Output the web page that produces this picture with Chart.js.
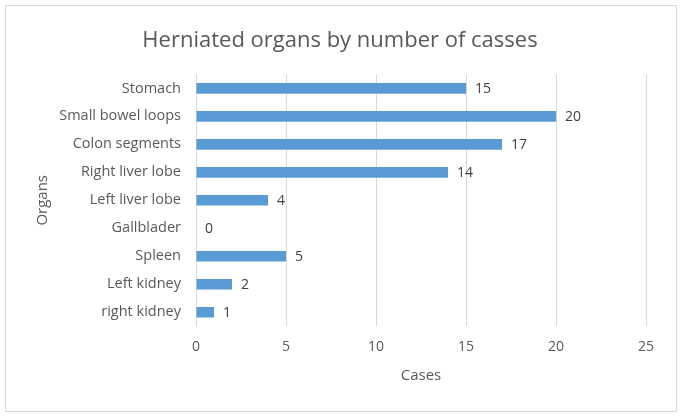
<!DOCTYPE html>
<html>
<head>
<meta charset="utf-8">
<script src="https://cdn.jsdelivr.net/npm/chart.js@4"></script>
<style>
html,body{margin:0;padding:0;background:#fff;}
#wrap{position:absolute;left:0;top:0;width:682px;height:417px;}
</style>
</head>
<body>
<div id="wrap"><canvas id="c" width="682" height="417"></canvas></div>
<script>
const categories = ["Stomach","Small bowel loops","Colon segments","Right liver lobe","Left liver lobe","Gallblader","Spleen","Left kidney","right kidney"];
const cases = [15,20,17,14,4,0,5,2,1];
const xTicks = [0,5,10,15,20,25];

const FONT = "'Open Sans', Lato, sans-serif";
const TXT = "#595959";

const frame = {
  id:'frame',
  beforeDraw(chart){
    const ctx = chart.ctx;
    ctx.save();
    ctx.fillStyle = '#fff';
    ctx.fillRect(0,0,chart.width,chart.height);
    ctx.strokeStyle = '#d9d9d9';
    ctx.lineWidth = 1;
    ctx.strokeRect(5.5,5.5,chart.width-11,chart.height-11);
    ctx.restore();
  }
};

const valueLabels = {
  id:'valueLabels',
  afterDatasetsDraw(chart){
    const ctx = chart.ctx;
    const meta = chart.getDatasetMeta(0);
    ctx.save();
    ctx.font = "14px " + FONT;
    ctx.fillStyle = "#404040";
    ctx.textAlign = 'left';
    ctx.textBaseline = 'middle';
    meta.data.forEach((bar,i)=>{
      ctx.fillText(String(cases[i]), bar.x + 9, bar.y + 1);
    });
    ctx.restore();
  }
};

new Chart(document.getElementById('c'), {
  type:'bar',
  data:{
    labels: categories,
    datasets:[{
      data: cases,
      backgroundColor:'#5B9BD5',
      borderWidth:0,
      categoryPercentage:1,
      barPercentage:0.38
    }]
  },
  options:{
    indexAxis:'y',
    responsive:false,
    animation:false,
    devicePixelRatio:1,
    layout:{padding:{left:34,right:36,top:0,bottom:32}},
    plugins:{
      legend:{display:false},
      tooltip:{enabled:false},
      title:{
        display:true,
        text:'Herniated organs by number of casses',
        color:TXT,
        font:{family:FONT,size:22,weight:'normal'},
        padding:{top:28,bottom:20}
      }
    },
    scales:{
      x:{
        min:0,max:25,
        afterBuildTicks(scale){ scale.ticks = xTicks.map(v=>({value:v})); },
        grid:{color:'#d9d9d9',drawTicks:false},
        border:{display:false},
        ticks:{color:TXT,font:{family:FONT,size:14},padding:12},
        title:{display:true,text:'Cases',color:TXT,font:{family:FONT,size:15},padding:{top:0,bottom:0}}
      },
      y:{
        afterFit(scale){ scale.width = 162; },
        grid:{display:false},
        border:{display:true,color:'#d9d9d9'},
        ticks:{color:TXT,font:{family:FONT,size:14.5},padding:7},
        title:{display:true,text:'Organs',color:TXT,font:{family:FONT,size:15},padding:{top:0,bottom:0}}
      }
    }
  },
  plugins:[frame,valueLabels]
});
</script>
</body>
</html>
